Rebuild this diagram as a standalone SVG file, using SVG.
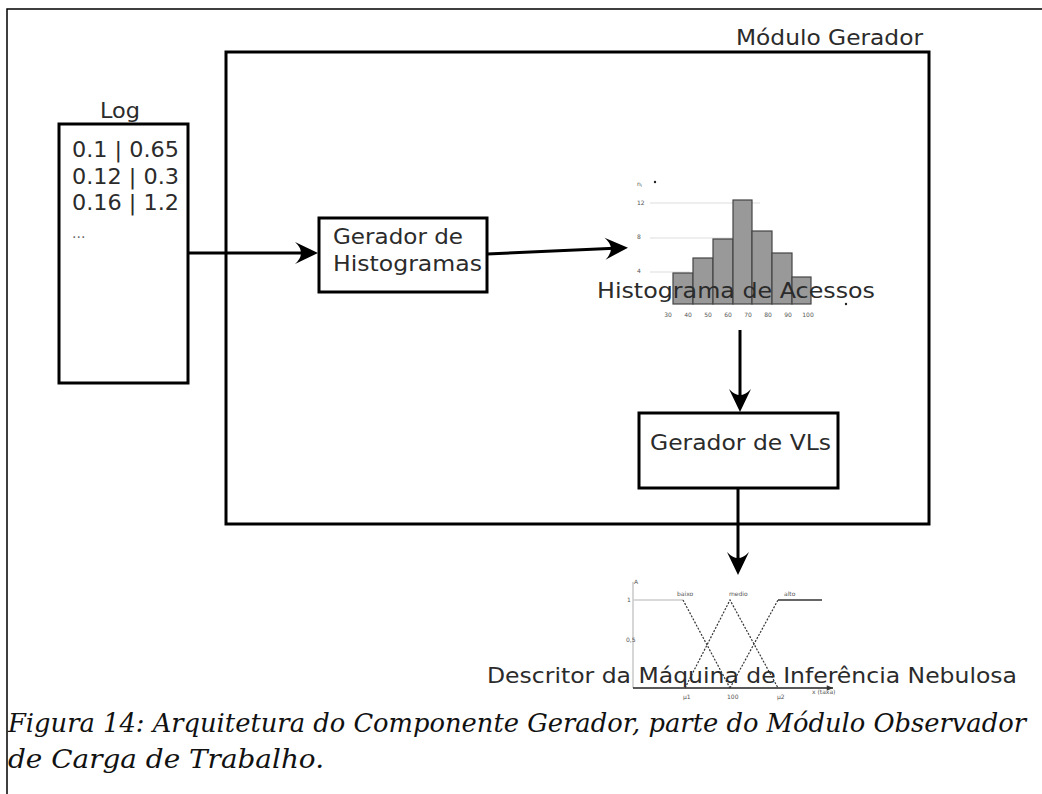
<svg xmlns="http://www.w3.org/2000/svg" width="1042" height="794" viewBox="0 0 1042 794">
  <style>
    .box { fill: none; stroke: #000; stroke-width: 3; }
    .label { font-family: "DejaVu Sans", sans-serif; font-size: 21px; fill: #2b2b2b; }
    .tiny { font-family: "DejaVu Sans", sans-serif; font-size: 6px; fill: #555; }
    .bar { fill: #999; stroke: #444; stroke-width: 1.2; }
    .grid { stroke: #ddd; stroke-width: 1; }
    .flow { stroke: #000; stroke-width: 3; fill: none; marker-end: url(#head); }
    .caption { font-family: "DejaVu Serif", serif; font-style: italic; font-size: 26px; fill: #111; }
  </style>
  <defs>
    <marker id="head" viewBox="-25 -12 27 24" refX="-8" refY="0" markerWidth="27" markerHeight="24" markerUnits="userSpaceOnUse" orient="auto">
      <path d="M 0 0 L -23 -11 Q -11 0 -23 11 Z" fill="#000"/>
    </marker>
    <marker id="small" viewBox="-8 -4 9 8" refX="0" refY="0" markerWidth="8" markerHeight="8" markerUnits="userSpaceOnUse" orient="auto">
      <path d="M 0 0 L -7 -3 L -7 3 Z" fill="#333"/>
    </marker>
  </defs>

  <rect width="1042" height="794" fill="#fff"/>

  <!-- page frame -->
  <path d="M 7 794 V 9 H 1042" fill="none" stroke="#000" stroke-width="1.5"/>

  <!-- generator module -->
  <g id="modulo-gerador">
    <rect class="box" x="226" y="52" width="703" height="472"/>
    <text class="label" x="736" y="45" textLength="187" lengthAdjust="spacingAndGlyphs">Módulo Gerador</text>
  </g>

  <!-- log input -->
  <g id="log">
    <rect class="box" x="59" y="124" width="129" height="259"/>
    <text class="label" x="100" y="118" textLength="40" lengthAdjust="spacingAndGlyphs">Log</text>
    <text class="label" x="72" y="157" textLength="107" lengthAdjust="spacingAndGlyphs">0.1 | 0.65</text>
    <text class="label" x="72" y="184" textLength="107" lengthAdjust="spacingAndGlyphs">0.12 | 0.3</text>
    <text class="label" x="72" y="210" textLength="107" lengthAdjust="spacingAndGlyphs">0.16 | 1.2</text>
    <text class="label" x="72" y="238" style="font-size:14px;fill:#666">...</text>
  </g>

  <g id="gerador-histogramas">
    <rect class="box" x="319" y="218" width="168" height="74"/>
    <text class="label" x="333" y="244" textLength="130" lengthAdjust="spacingAndGlyphs">Gerador de</text>
    <text class="label" x="333" y="271" textLength="149" lengthAdjust="spacingAndGlyphs">Histogramas</text>
  </g>

  <!-- access histogram -->
  <g id="histograma">
    <line class="grid" x1="650" y1="203" x2="760" y2="203"/>
    <line class="grid" x1="650" y1="238" x2="760" y2="238"/>
    <line class="grid" x1="650" y1="272" x2="690" y2="272"/>
    <rect class="bar" x="673" y="273" width="20" height="31"/>
    <rect class="bar" x="693" y="258" width="20" height="46"/>
    <rect class="bar" x="713" y="239" width="20" height="65"/>
    <rect class="bar" x="733" y="200" width="19" height="104"/>
    <rect class="bar" x="752" y="231" width="20" height="73"/>
    <rect class="bar" x="772" y="253" width="20" height="51"/>
    <rect class="bar" x="792" y="277" width="19" height="27"/>
    <text class="tiny" x="637" y="186">n<tspan font-size="4" dy="1">i</tspan></text>
    <circle cx="655" cy="182" r="1.2" fill="#222"/>
    <circle cx="846" cy="304" r="1.2" fill="#222"/>
    <text class="tiny" x="637" y="205">12</text>
    <text class="tiny" x="637" y="239">8</text>
    <text class="tiny" x="637" y="273">4</text>
    <g class="tiny" text-anchor="middle">
      <text x="668" y="317">30</text>
      <text x="688" y="317">40</text>
      <text x="708" y="317">50</text>
      <text x="728" y="317">60</text>
      <text x="748" y="317">70</text>
      <text x="768" y="317">80</text>
      <text x="788" y="317">90</text>
      <text x="808" y="317">100</text>
    </g>
    <text class="label" x="597" y="298" textLength="278" lengthAdjust="spacingAndGlyphs">Histograma de Acessos</text>
  </g>

  <g id="gerador-vls">
    <rect class="box" x="639" y="413" width="199" height="75"/>
    <text class="label" x="650" y="450" textLength="181" lengthAdjust="spacingAndGlyphs">Gerador de VLs</text>
  </g>

  <!-- fuzzy inference descriptor -->
  <g id="descritor">
    <line x1="633" y1="688" x2="633" y2="582" stroke="#bbb" stroke-width="1.2"/>
    <line x1="633" y1="688" x2="833" y2="688" stroke="#222" stroke-width="1.5" marker-end="url(#small)"/>
    <path d="M 633 600 H 683" stroke="#ccc" stroke-width="1.5" fill="none"/>
    <path d="M 683 600 L 730 688" stroke="#333" stroke-width="1.2" stroke-dasharray="2 1.5" fill="none"/>
    <path d="M 685 688 L 730 600 L 778 688" stroke="#333" stroke-width="1.2" stroke-dasharray="2 1.5" fill="none"/>
    <path d="M 730 688 L 778 600" stroke="#333" stroke-width="1.2" stroke-dasharray="2 1.5" fill="none"/>
    <path d="M 778 600 H 822" stroke="#333" stroke-width="1.5" fill="none"/>
    <text class="tiny" x="634" y="584">A</text>
    <text class="tiny" x="627" y="602">1</text>
    <text class="tiny" x="626" y="642">0,5</text>
    <text class="tiny" x="677" y="596">baixo</text>
    <text class="tiny" x="729" y="596">medio</text>
    <text class="tiny" x="784" y="596">alto</text>
    <text class="tiny" x="683" y="699">μ1</text>
    <text class="tiny" x="727" y="699">100</text>
    <text class="tiny" x="777" y="699">μ2</text>
    <text class="tiny" x="812" y="694">x (taxa)</text>
    <text class="label" x="487" y="683" textLength="530" lengthAdjust="spacingAndGlyphs">Descritor da Máquina de Inferência Nebulosa</text>
  </g>

  <!-- connectors -->
  <g id="connectors">
    <line class="flow" x1="188" y1="253" x2="310" y2="253"/>
    <line class="flow" x1="487" y1="254" x2="620" y2="248"/>
    <line class="flow" x1="740" y1="330" x2="740" y2="404"/>
    <line class="flow" x1="738" y1="488" x2="738" y2="567"/>
  </g>

  <!-- caption -->
  <g id="legenda">
    <text class="caption" x="8" y="732" textLength="1018" lengthAdjust="spacingAndGlyphs">Figura 14: Arquitetura do Componente Gerador, parte do Módulo Observador</text>
    <text class="caption" x="8" y="768" textLength="316" lengthAdjust="spacingAndGlyphs">de Carga de Trabalho.</text>
  </g>
</svg>
